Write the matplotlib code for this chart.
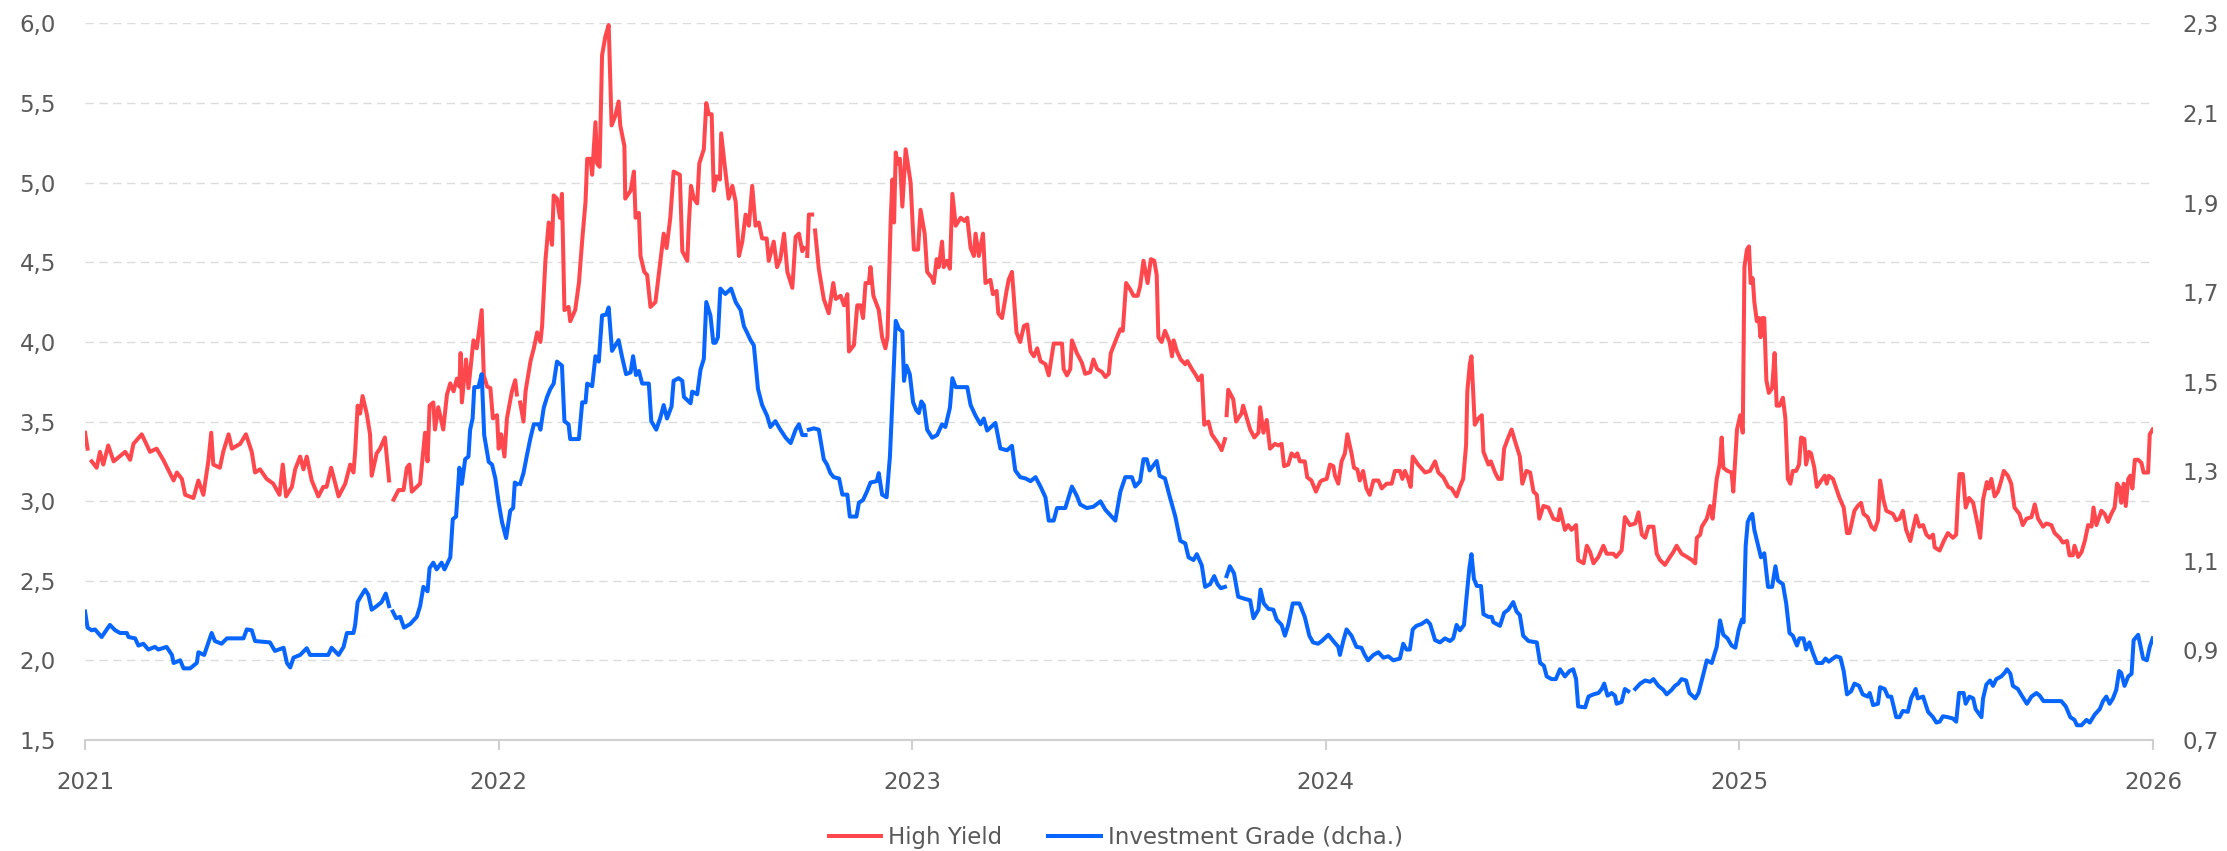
import numpy as np
import matplotlib
matplotlib.use("Agg")
import matplotlib.pyplot as plt
from matplotlib.ticker import FuncFormatter

nan = np.nan

# High Yield (left axis), decimal years
hy_t = [
    2021.000, 2021.006, 2021.010, 2021.016, 2021.028, 2021.036, 2021.044, 2021.056, 2021.069, 2021.097,
    2021.109, 2021.117, 2021.137, 2021.157, 2021.173, 2021.189, 2021.214, 2021.222, 2021.234, 2021.242,
    2021.262, 2021.274, 2021.286, 2021.298, 2021.305, 2021.310, 2021.326, 2021.334, 2021.347, 2021.355,
    2021.375, 2021.389, 2021.403, 2021.411, 2021.423, 2021.439, 2021.455, 2021.470, 2021.478, 2021.486,
    2021.500, 2021.508, 2021.520, 2021.528, 2021.536, 2021.548, 2021.564, 2021.576, 2021.584, 2021.595,
    2021.613, 2021.629, 2021.641, 2021.649, 2021.653, 2021.659, 2021.665, 2021.671, 2021.681, 2021.689,
    2021.693, 2021.705, 2021.713, 2021.725, 2021.735, 2021.740, 2021.746, 2021.758, 2021.770, 2021.778,
    2021.784, 2021.790, 2021.810, 2021.822, 2021.828, 2021.833, 2021.842, 2021.846, 2021.854, 2021.866,
    2021.875, 2021.883, 2021.891, 2021.899, 2021.905, 2021.908, 2021.911, 2021.921, 2021.927, 2021.939,
    2021.947, 2021.959, 2021.964, 2021.972, 2021.980, 2021.986, 2021.996,
    2022.000, 2022.006, 2022.014, 2022.020, 2022.032, 2022.040, 2022.044, 2022.048, 2022.052, 2022.060,
    2022.065, 2022.077, 2022.085, 2022.093, 2022.101, 2022.105, 2022.113, 2022.121, 2022.129, 2022.133,
    2022.141, 2022.148, 2022.153, 2022.159, 2022.169, 2022.173, 2022.185, 2022.194, 2022.202, 2022.210,
    2022.214, 2022.222, 2022.226, 2022.234, 2022.238, 2022.244, 2022.250, 2022.258, 2022.266, 2022.273,
    2022.282, 2022.290, 2022.294, 2022.304, 2022.306, 2022.319, 2022.327, 2022.331, 2022.339, 2022.343,
    2022.352, 2022.359, 2022.367, 2022.379, 2022.391, 2022.399, 2022.406, 2022.415, 2022.423, 2022.438,
    2022.444, 2022.456, 2022.460, 2022.465, 2022.472, 2022.480, 2022.485, 2022.496, 2022.502, 2022.508,
    2022.515, 2022.520, 2022.527, 2022.535, 2022.538, 2022.546, 2022.556, 2022.565, 2022.573, 2022.581,
    2022.589, 2022.597, 2022.605, 2022.613, 2022.621, 2022.629, 2022.637, 2022.648, 2022.653, 2022.665,
    2022.673, 2022.681, 2022.690, 2022.698, 2022.710, 2022.718, 2022.726, 2022.734, 2022.738, 2022.742,
    2022.746, 2022.750, 2022.758, 2022.762, 2022.765, 2022.774, 2022.786, 2022.798, 2022.809, 2022.815,
    2022.827, 2022.835, 2022.843, 2022.847, 2022.859, 2022.867, 2022.875, 2022.881, 2022.887, 2022.895,
    2022.899, 2022.906, 2022.919, 2022.927, 2022.935, 2022.940, 2022.948, 2022.952, 2022.956, 2022.960,
    2022.965, 2022.970, 2022.976, 2022.984, 2022.996,
    2023.004, 2023.014, 2023.020, 2023.030, 2023.036, 2023.048, 2023.052, 2023.059, 2023.064, 2023.072,
    2023.076, 2023.084, 2023.091, 2023.097, 2023.105, 2023.117, 2023.126, 2023.133, 2023.141, 2023.149,
    2023.153, 2023.161, 2023.171, 2023.177, 2023.189, 2023.195, 2023.204, 2023.208, 2023.217, 2023.228,
    2023.233, 2023.241, 2023.252, 2023.261, 2023.270, 2023.278, 2023.286, 2023.294, 2023.302, 2023.310,
    2023.322, 2023.330, 2023.342, 2023.350, 2023.362, 2023.366, 2023.374, 2023.382, 2023.386, 2023.398,
    2023.410, 2023.418, 2023.430, 2023.438, 2023.447, 2023.459, 2023.467, 2023.475, 2023.480, 2023.495,
    2023.503, 2023.509, 2023.517, 2023.527, 2023.535, 2023.545, 2023.551, 2023.559, 2023.569, 2023.577,
    2023.585, 2023.591, 2023.595, 2023.603, 2023.611, 2023.622, 2023.628, 2023.632, 2023.640, 2023.649,
    2023.660, 2023.665, 2023.676, 2023.686, 2023.692, 2023.700, 2023.706, 2023.716, 2023.724, 2023.732,
    2023.740, 2023.748, 2023.756, 2023.758, 2023.760, 2023.764, 2023.776, 2023.783, 2023.788, 2023.796,
    2023.800, 2023.809, 2023.817, 2023.827, 2023.837, 2023.841, 2023.849, 2023.857, 2023.865, 2023.877,
    2023.885, 2023.893, 2023.899, 2023.909, 2023.917, 2023.925, 2023.931, 2023.937, 2023.949, 2023.955,
    2023.965, 2023.976, 2023.986, 2023.990,
    2024.002, 2024.010, 2024.018, 2024.022, 2024.030, 2024.038, 2024.046, 2024.052, 2024.062, 2024.068,
    2024.076, 2024.082, 2024.090, 2024.098, 2024.106, 2024.115, 2024.127, 2024.135, 2024.147, 2024.159,
    2024.167, 2024.179, 2024.185, 2024.191, 2024.199, 2024.205, 2024.210, 2024.223, 2024.240, 2024.252,
    2024.264, 2024.272, 2024.284, 2024.296, 2024.304, 2024.316, 2024.324, 2024.332, 2024.339, 2024.342,
    2024.348, 2024.352, 2024.360, 2024.369, 2024.377, 2024.381, 2024.393, 2024.399, 2024.409, 2024.417,
    2024.425, 2024.431, 2024.441, 2024.449, 2024.457, 2024.469, 2024.475, 2024.485, 2024.494, 2024.502,
    2024.510, 2024.516, 2024.526, 2024.538, 2024.550, 2024.562, 2024.566, 2024.578, 2024.586, 2024.594,
    2024.605, 2024.610, 2024.623, 2024.631, 2024.639, 2024.647, 2024.659, 2024.671, 2024.679, 2024.695,
    2024.702, 2024.715, 2024.723, 2024.735, 2024.748, 2024.756, 2024.764, 2024.772, 2024.780, 2024.792,
    2024.800, 2024.808, 2024.820, 2024.832, 2024.840, 2024.848, 2024.860, 2024.873, 2024.885, 2024.893,
    2024.897, 2024.905, 2024.909, 2024.921, 2024.929, 2024.935, 2024.945, 2024.952, 2024.957, 2024.961,
    2024.971, 2024.981, 2024.985, 2024.994,
    2025.002, 2025.008, 2025.012, 2025.018, 2025.023, 2025.027, 2025.032, 2025.036, 2025.042, 2025.047,
    2025.051, 2025.055, 2025.060, 2025.065, 2025.071, 2025.079, 2025.085, 2025.090, 2025.097, 2025.105,
    2025.111, 2025.117, 2025.123, 2025.129, 2025.137, 2025.144, 2025.149, 2025.157, 2025.161, 2025.168,
    2025.173, 2025.181, 2025.187, 2025.198, 2025.206, 2025.211, 2025.216, 2025.226, 2025.234, 2025.242,
    2025.252, 2025.260, 2025.266, 2025.278, 2025.286, 2025.294, 2025.300, 2025.310, 2025.319, 2025.327,
    2025.335, 2025.340, 2025.348, 2025.355, 2025.371, 2025.379, 2025.387, 2025.395, 2025.403, 2025.413,
    2025.419, 2025.427, 2025.435, 2025.444, 2025.452, 2025.460, 2025.468, 2025.472, 2025.484, 2025.494,
    2025.504, 2025.516, 2025.524, 2025.528, 2025.532, 2025.540, 2025.547, 2025.555, 2025.565, 2025.573,
    2025.582, 2025.589, 2025.598, 2025.603, 2025.609, 2025.617, 2025.625, 2025.633, 2025.639, 2025.649,
    2025.657, 2025.665, 2025.677, 2025.685, 2025.694, 2025.706, 2025.714, 2025.722, 2025.734, 2025.742,
    2025.754, 2025.762, 2025.774, 2025.782, 2025.792, 2025.798, 2025.806, 2025.810, 2025.819, 2025.827,
    2025.835, 2025.843, 2025.851, 2025.856, 2025.863, 2025.875, 2025.883, 2025.891, 2025.899, 2025.907,
    2025.913, 2025.918, 2025.923, 2025.929, 2025.934, 2025.940, 2025.945, 2025.950, 2025.956, 2025.964,
    2025.972, 2025.977, 2025.988, 2025.992, 2025.999,
]
hy = [
    3.43, 3.33, nan, 3.25, 3.21, 3.31, 3.23, 3.35, 3.25, 3.31,
    3.26, 3.36, 3.42, 3.31, 3.33, 3.26, 3.13, 3.18, 3.14, 3.04,
    3.02, 3.13, 3.04, 3.25, 3.43, 3.23, 3.21, 3.31, 3.42, 3.33,
    3.36, 3.42, 3.31, 3.18, 3.20, 3.14, 3.11, 3.04, 3.23, 3.03,
    3.09, 3.20, 3.28, 3.20, 3.28, 3.13, 3.03, 3.09, 3.09, 3.21,
    3.03, 3.11, 3.23, 3.18, 3.31, 3.60, 3.55, 3.66, 3.55, 3.42,
    3.16, 3.30, 3.33, 3.40, 3.13, nan, 3.01, 3.07, 3.07, 3.21,
    3.23, 3.06, 3.11, 3.43, 3.25, 3.60, 3.62, 3.45, 3.59, 3.45,
    3.67, 3.74, 3.69, 3.77, 3.72, 3.93, 3.62, 3.89, 3.71, 4.01,
    3.96, 4.20, 3.79, 3.72, 3.71, 3.52, 3.54,
    3.33, 3.42, 3.28, 3.52, 3.69, 3.76, 3.67, nan, 3.62, 3.50,
    3.69, 3.88, 3.96, 4.06, 4.00, 4.10, 4.51, 4.75, 4.61, 4.92,
    4.90, 4.78, 4.93, 4.20, 4.22, 4.13, 4.20, 4.37, 4.64, 4.88,
    5.15, 5.15, 5.05, 5.38, 5.12, 5.10, 5.80, 5.92, 5.99, 5.36,
    5.42, 5.51, 5.36, 5.23, 4.90, 4.95, 5.07, 4.78, 4.81, 4.54,
    4.44, 4.42, 4.22, 4.25, 4.51, 4.68, 4.59, 4.78, 5.07, 5.05,
    4.57, 4.51, 4.75, 4.98, 4.90, 4.87, 5.12, 5.21, 5.50, 5.43,
    5.43, 4.95, 5.04, 5.02, 5.31, 5.12, 4.90, 4.98, 4.88, 4.54,
    4.63, 4.80, 4.73, 4.98, 4.73, 4.75, 4.65, 4.65, 4.51, 4.63,
    4.47, 4.52, 4.68, 4.44, 4.34, 4.66, 4.68, 4.57, 4.59, nan,
    4.54, 4.80, 4.80, nan, 4.70, 4.46, 4.27, 4.18, 4.37, 4.27,
    4.29, 4.23, 4.30, 3.94, 3.98, 4.23, 4.23, 4.15, 4.37, 4.37,
    4.47, 4.29, 4.20, 4.03, 3.96, 4.03, 4.78, 5.02, 4.75, 5.19,
    5.12, 5.15, 4.85, 5.21, 5.00,
    4.58, 4.58, 4.83, 4.68, 4.44, 4.40, 4.37, 4.52, 4.47, 4.63,
    4.47, 4.51, 4.46, 4.93, 4.73, 4.78, 4.76, 4.78, 4.59, 4.54,
    4.68, 4.54, 4.68, 4.37, 4.39, 4.30, 4.32, 4.18, 4.15, 4.32,
    4.39, 4.44, 4.06, 4.00, 4.10, 4.11, 3.94, 3.91, 3.96, 3.88,
    3.86, 3.79, 3.99, 3.99, 3.99, 3.83, 3.79, 3.83, 4.01, 3.93,
    3.87, 3.80, 3.81, 3.89, 3.83, 3.81, 3.78, 3.80, 3.93, 4.03,
    4.08, 4.07, 4.37, 4.33, 4.29, 4.29, 4.35, 4.51, 4.37, 4.52,
    4.51, 4.42, 4.03, 4.00, 4.07, 4.00, 3.91, 4.01, 3.94, 3.89,
    3.86, 3.88, 3.83, 3.79, 3.76, 3.79, 3.48, 3.50, 3.42, 3.39,
    3.36, 3.32, 3.39, nan, 3.54, 3.70, 3.64, 3.50, 3.52, 3.55,
    3.60, 3.52, 3.45, 3.40, 3.43, 3.59, 3.43, 3.51, 3.33, 3.36,
    3.35, 3.36, 3.22, 3.23, 3.30, 3.28, 3.30, 3.25, 3.25, 3.15,
    3.13, 3.06, 3.12, 3.13,
    3.14, 3.23, 3.22, 3.16, 3.11, 3.25, 3.30, 3.42, 3.30, 3.21,
    3.20, 3.13, 3.19, 3.08, 3.04, 3.13, 3.13, 3.08, 3.11, 3.11,
    3.19, 3.19, 3.14, 3.19, 3.14, 3.09, 3.28, 3.23, 3.18, 3.19,
    3.25, 3.18, 3.15, 3.09, 3.08, 3.03, 3.09, 3.14, 3.35, 3.69,
    3.86, 3.91, 3.48, 3.52, 3.54, 3.31, 3.23, 3.25, 3.18, 3.14,
    3.14, 3.33, 3.40, 3.45, 3.38, 3.28, 3.11, 3.19, 3.18, 3.06,
    3.04, 2.89, 2.97, 2.96, 2.89, 2.88, 2.95, 2.82, 2.85, 2.82,
    2.85, 2.63, 2.61, 2.72, 2.68, 2.61, 2.65, 2.72, 2.67, 2.67,
    2.65, 2.69, 2.90, 2.85, 2.86, 2.93, 2.79, 2.77, 2.84, 2.84,
    2.67, 2.63, 2.60, 2.65, 2.68, 2.72, 2.67, 2.65, 2.63, 2.61,
    2.77, 2.79, 2.84, 2.89, 2.97, 2.89, 3.14, 3.23, 3.40, 3.21,
    3.19, 3.18, 3.06, 3.45,
    3.54, 3.43, 4.47, 4.58, 4.60, 4.37, 4.40, 4.25, 4.13, 4.15,
    4.03, 4.15, 4.15, 3.76, 3.68, 3.71, 3.93, 3.60, 3.60, 3.65,
    3.52, 3.14, 3.11, 3.19, 3.19, 3.23, 3.40, 3.39, 3.23, 3.31,
    3.30, 3.21, 3.09, 3.13, 3.16, 3.11, 3.16, 3.14, 3.08, 3.02,
    2.96, 2.80, 2.80, 2.94, 2.97, 2.99, 2.92, 2.90, 2.84, 2.82,
    2.88, 3.13, 3.01, 2.94, 2.92, 2.88, 2.89, 2.94, 2.82, 2.75,
    2.82, 2.91, 2.84, 2.85, 2.79, 2.77, 2.79, 2.71, 2.69, 2.75,
    2.80, 2.77, 2.79, 3.01, 3.17, 3.17, 2.96, 3.02, 2.99, 2.89,
    2.77, 3.01, 3.12, 3.08, 3.14, 3.03, 3.06, 3.13, 3.19, 3.16,
    3.11, 2.96, 2.92, 2.85, 2.89, 2.90, 2.98, 2.89, 2.84, 2.86,
    2.85, 2.80, 2.77, 2.74, 2.75, 2.66, 2.66, 2.72, 2.65, 2.68,
    2.75, 2.85, 2.84, 2.96, 2.85, 2.94, 2.92, 2.87, 2.92, 2.96,
    3.11, 3.09, 2.99, 3.11, 2.97, 3.14, 3.16, 3.08, 3.26, 3.26,
    3.24, 3.18, 3.18, 3.42, 3.45,
]

# Investment Grade (right axis)
ig_t = [
    2021.000, 2021.006, 2021.016, 2021.024, 2021.040, 2021.060, 2021.073, 2021.085, 2021.101, 2021.105,
    2021.121, 2021.129, 2021.141, 2021.153, 2021.169, 2021.177, 2021.197, 2021.210, 2021.214, 2021.230,
    2021.238, 2021.254, 2021.270, 2021.274, 2021.288, 2021.306, 2021.314, 2021.330, 2021.343, 2021.383,
    2021.391, 2021.403, 2021.411, 2021.447, 2021.459, 2021.480, 2021.488, 2021.496, 2021.504, 2021.520,
    2021.536, 2021.544, 2021.588, 2021.596, 2021.613, 2021.625, 2021.633, 2021.649, 2021.653, 2021.659,
    2021.665, 2021.677, 2021.685, 2021.693, 2021.705, 2021.717, 2021.727, 2021.735, 2021.740, 2021.744,
    2021.752, 2021.762, 2021.771, 2021.786, 2021.802, 2021.810, 2021.818, 2021.828, 2021.833, 2021.842,
    2021.850, 2021.862, 2021.869, 2021.883, 2021.889, 2021.897, 2021.905, 2021.911, 2021.919, 2021.927,
    2021.931, 2021.937, 2021.941, 2021.951, 2021.959, 2021.965, 2021.976, 2021.984, 2021.992,
    2022.000, 2022.008, 2022.018, 2022.028, 2022.035, 2022.039, 2022.044, 2022.048, 2022.052, 2022.060,
    2022.069, 2022.077, 2022.085, 2022.097, 2022.101, 2022.109, 2022.117, 2022.125, 2022.133, 2022.141,
    2022.153, 2022.159, 2022.169, 2022.173, 2022.194, 2022.202, 2022.210, 2022.214, 2022.226, 2022.234,
    2022.242, 2022.250, 2022.260, 2022.266, 2022.274, 2022.290, 2022.298, 2022.308, 2022.319, 2022.325,
    2022.332, 2022.339, 2022.347, 2022.363, 2022.369, 2022.381, 2022.391, 2022.399, 2022.407, 2022.418,
    2022.423, 2022.435, 2022.444, 2022.448, 2022.464, 2022.468, 2022.480, 2022.488, 2022.496, 2022.502,
    2022.512, 2022.519, 2022.524, 2022.530, 2022.536, 2022.548, 2022.562, 2022.573, 2022.585, 2022.593,
    2022.601, 2022.609, 2022.617, 2022.627, 2022.637, 2022.649, 2022.657, 2022.669, 2022.681, 2022.694,
    2022.706, 2022.718, 2022.726, 2022.734, 2022.742, 2022.744, 2022.750, 2022.762, 2022.774, 2022.786,
    2022.794, 2022.802, 2022.810, 2022.823, 2022.831, 2022.843, 2022.849, 2022.865, 2022.871, 2022.881,
    2022.890, 2022.899, 2022.914, 2022.919, 2022.927, 2022.938, 2022.946, 2022.954, 2022.960, 2022.968,
    2022.976, 2022.980, 2022.986, 2022.994,
    2023.002, 2023.010, 2023.016, 2023.022, 2023.028, 2023.036, 2023.048, 2023.060, 2023.072, 2023.080,
    2023.091, 2023.097, 2023.105, 2023.133, 2023.141, 2023.153, 2023.165, 2023.173, 2023.181, 2023.201,
    2023.213, 2023.229, 2023.241, 2023.249, 2023.261, 2023.274, 2023.286, 2023.298, 2023.310, 2023.322,
    2023.330, 2023.342, 2023.350, 2023.370, 2023.386, 2023.398, 2023.406, 2023.422, 2023.438, 2023.455,
    2023.467, 2023.479, 2023.491, 2023.503, 2023.515, 2023.531, 2023.539, 2023.551, 2023.559, 2023.567,
    2023.574, 2023.591, 2023.598, 2023.611, 2023.623, 2023.636, 2023.648, 2023.660, 2023.668, 2023.680,
    2023.688, 2023.700, 2023.708, 2023.720, 2023.730, 2023.738, 2023.746, 2023.756, 2023.758, 2023.760,
    2023.768, 2023.778, 2023.788, 2023.805, 2023.817, 2023.825, 2023.837, 2023.842, 2023.850, 2023.861,
    2023.873, 2023.881, 2023.893, 2023.901, 2023.909, 2023.920, 2023.936, 2023.949, 2023.960, 2023.969,
    2023.981, 2023.990,
    2024.006, 2024.018, 2024.030, 2024.034, 2024.042, 2024.050, 2024.062, 2024.074, 2024.086, 2024.094,
    2024.102, 2024.115, 2024.127, 2024.139, 2024.151, 2024.163, 2024.179, 2024.187, 2024.195, 2024.203,
    2024.210, 2024.219, 2024.231, 2024.244, 2024.252, 2024.264, 2024.276, 2024.288, 2024.300, 2024.308,
    2024.316, 2024.324, 2024.334, 2024.340, 2024.347, 2024.352, 2024.358, 2024.365, 2024.375, 2024.381,
    2024.393, 2024.401, 2024.405, 2024.421, 2024.431, 2024.441, 2024.453, 2024.461, 2024.469, 2024.477,
    2024.490, 2024.510, 2024.518, 2024.527, 2024.534, 2024.546, 2024.556, 2024.566, 2024.578, 2024.589,
    2024.598, 2024.605, 2024.610, 2024.627, 2024.635, 2024.647, 2024.659, 2024.667, 2024.673, 2024.681,
    2024.691, 2024.699, 2024.703, 2024.715, 2024.723, 2024.731, 2024.735, 2024.748, 2024.760, 2024.772,
    2024.784, 2024.792, 2024.804, 2024.816, 2024.824, 2024.836, 2024.844, 2024.852, 2024.860, 2024.871,
    2024.879, 2024.893, 2024.901, 2024.913, 2024.921, 2024.933, 2024.945, 2024.953, 2024.961, 2024.971,
    2024.981, 2024.990, 2024.998,
    2025.006, 2025.010, 2025.015, 2025.020, 2025.026, 2025.031, 2025.036, 2025.044, 2025.052, 2025.060,
    2025.069, 2025.079, 2025.087, 2025.093, 2025.105, 2025.113, 2025.121, 2025.129, 2025.139, 2025.145,
    2025.155, 2025.161, 2025.169, 2025.177, 2025.187, 2025.200, 2025.208, 2025.216, 2025.226, 2025.234,
    2025.244, 2025.252, 2025.260, 2025.270, 2025.278, 2025.289, 2025.298, 2025.310, 2025.315, 2025.323,
    2025.335, 2025.340, 2025.351, 2025.359, 2025.367, 2025.379, 2025.387, 2025.395, 2025.407, 2025.415,
    2025.426, 2025.431, 2025.444, 2025.456, 2025.468, 2025.476, 2025.484, 2025.492, 2025.504, 2025.516,
    2025.524, 2025.531, 2025.542, 2025.547, 2025.556, 2025.565, 2025.571, 2025.585, 2025.589, 2025.597,
    2025.606, 2025.613, 2025.621, 2025.633, 2025.641, 2025.647, 2025.655, 2025.661, 2025.673, 2025.684,
    2025.695, 2025.706, 2025.718, 2025.726, 2025.735, 2025.754, 2025.778, 2025.789, 2025.800, 2025.810,
    2025.816, 2025.827, 2025.839, 2025.847, 2025.859, 2025.871, 2025.879, 2025.887, 2025.895, 2025.903,
    2025.911, 2025.918, 2025.923, 2025.931, 2025.940, 2025.948, 2025.953, 2025.964, 2025.976, 2025.985,
    2025.992, 2025.999,
]
ig = [
    0.987, 0.951, 0.945, 0.947, 0.930, 0.957, 0.945, 0.939, 0.939, 0.930,
    0.927, 0.911, 0.915, 0.902, 0.908, 0.902, 0.908, 0.890, 0.872, 0.878,
    0.860, 0.860, 0.872, 0.896, 0.890, 0.939, 0.921, 0.915, 0.927, 0.927,
    0.947, 0.945, 0.921, 0.918, 0.899, 0.906, 0.872, 0.862, 0.884, 0.890,
    0.905, 0.890, 0.890, 0.906, 0.890, 0.908, 0.939, 0.939, 0.957, 1.008,
    1.018, 1.036, 1.024, 0.991, 0.999, 1.008, 1.027, 0.999, nan, 0.987,
    0.972, 0.975, 0.951, 0.959, 0.975, 0.999, 1.042, 1.032, 1.084, 1.096,
    1.081, 1.096, 1.081, 1.108, 1.193, 1.199, 1.308, 1.272, 1.327, 1.333,
    1.393, 1.418, 1.488, 1.488, 1.517, 1.381, 1.321, 1.315, 1.284,
    1.230, 1.187, 1.151, 1.212, 1.218, 1.275, 1.272, nan, 1.272, 1.296,
    1.339, 1.375, 1.405, 1.405, 1.393, 1.442, 1.466, 1.484, 1.496, 1.545,
    1.536, 1.412, 1.405, 1.372, 1.372, 1.454, 1.454, 1.496, 1.490, 1.557,
    1.545, 1.648, 1.650, 1.666, 1.569, 1.593, 1.557, 1.517, 1.521, 1.557,
    1.515, 1.524, 1.496, 1.496, 1.412, 1.393, 1.420, 1.448, 1.418, 1.445,
    1.502, 1.508, 1.502, 1.466, 1.452, 1.478, 1.472, 1.527, 1.551, 1.678,
    1.648, 1.587, 1.587, 1.599, 1.708, 1.696, 1.708, 1.678, 1.660, 1.624,
    1.609, 1.593, 1.581, 1.484, 1.448, 1.424, 1.399, 1.412, 1.393, 1.375,
    1.363, 1.393, 1.405, 1.381, 1.381, nan, 1.393, 1.396, 1.393, 1.327,
    1.315, 1.296, 1.287, 1.284, 1.248, 1.248, 1.199, 1.199, 1.230, 1.236,
    1.254, 1.275, 1.278, 1.296, 1.248, 1.242, 1.333, 1.502, 1.636, 1.618,
    1.612, 1.502, 1.536, 1.517,
    1.454, 1.436, 1.430, 1.456, 1.448, 1.393, 1.375, 1.381, 1.405, 1.399,
    1.442, 1.508, 1.488, 1.488, 1.448, 1.424, 1.405, 1.418, 1.391, 1.408,
    1.351, 1.347, 1.357, 1.302, 1.287, 1.284, 1.278, 1.287, 1.266, 1.242,
    1.190, 1.190, 1.218, 1.218, 1.266, 1.245, 1.226, 1.218, 1.221, 1.233,
    1.214, 1.202, 1.190, 1.254, 1.287, 1.287, 1.266, 1.278, 1.327, 1.327,
    1.302, 1.323, 1.290, 1.284, 1.242, 1.199, 1.145, 1.139, 1.108, 1.102,
    1.115, 1.090, 1.042, 1.048, 1.066, 1.048, 1.039, 1.042, nan, 1.066,
    1.088, 1.072, 1.020, 1.015, 1.012, 0.972, 0.991, 1.036, 1.005, 0.993,
    0.991, 0.969, 0.957, 0.933, 0.957, 1.005, 1.005, 0.975, 0.933, 0.918,
    0.915, 0.921,
    0.935, 0.921, 0.908, 0.890, 0.921, 0.947, 0.933, 0.908, 0.906, 0.890,
    0.878, 0.890, 0.896, 0.884, 0.887, 0.878, 0.882, 0.915, 0.902, 0.902,
    0.947, 0.955, 0.959, 0.967, 0.959, 0.923, 0.918, 0.927, 0.921, 0.927,
    0.957, 0.945, 0.957, 1.018, 1.084, 1.115, 1.060, 1.044, 1.044, 0.981,
    0.975, 0.975, 0.963, 0.955, 0.984, 0.991, 1.008, 0.987, 0.979, 0.933,
    0.921, 0.918, 0.872, 0.866, 0.842, 0.836, 0.836, 0.858, 0.842, 0.854,
    0.858, 0.836, 0.775, 0.773, 0.797, 0.802, 0.805, 0.814, 0.826, 0.799,
    0.805, 0.799, 0.781, 0.785, 0.814, 0.809, nan, 0.814, 0.826, 0.833,
    0.830, 0.836, 0.821, 0.812, 0.802, 0.812, 0.821, 0.826, 0.836, 0.833,
    0.805, 0.793, 0.805, 0.848, 0.878, 0.872, 0.908, 0.967, 0.935, 0.927,
    0.911, 0.906, 0.945,
    0.969, 0.963, 1.133, 1.187, 1.199, 1.205, 1.169, 1.139, 1.108, 1.117,
    1.042, 1.042, 1.088, 1.056, 1.048, 1.005, 0.939, 0.933, 0.911, 0.927,
    0.927, 0.902, 0.918, 0.896, 0.872, 0.872, 0.882, 0.875, 0.882, 0.887,
    0.884, 0.854, 0.802, 0.809, 0.826, 0.821, 0.802, 0.797, 0.805, 0.778,
    0.781, 0.818, 0.814, 0.797, 0.797, 0.751, 0.751, 0.765, 0.763, 0.793,
    0.814, 0.793, 0.797, 0.763, 0.751, 0.739, 0.741, 0.753, 0.751, 0.748,
    0.741, 0.805, 0.805, 0.781, 0.797, 0.793, 0.769, 0.751, 0.793, 0.824,
    0.833, 0.821, 0.836, 0.842, 0.850, 0.858, 0.848, 0.821, 0.814, 0.797,
    0.781, 0.797, 0.805, 0.799, 0.787, 0.787, 0.787, 0.775, 0.751, 0.745,
    0.733, 0.733, 0.745, 0.739, 0.757, 0.769, 0.787, 0.797, 0.781, 0.793,
    0.812, 0.854, 0.850, 0.821, 0.842, 0.848, 0.923, 0.935, 0.882, 0.878,
    0.908, 0.927,
]

years = [2021, 2022, 2023, 2024, 2025, 2026]
left_ticks = [1.5, 2.0, 2.5, 3.0, 3.5, 4.0, 4.5, 5.0, 5.5, 6.0]
right_ticks = [0.7, 0.9, 1.1, 1.3, 1.5, 1.7, 1.9, 2.1, 2.3]

red = "#FF484E"
blue = "#0866FF"
grey_text = "#595959"
comma = FuncFormatter(lambda v, pos: f"{v:.1f}".replace(".", ","))

fig = plt.figure(figsize=(22.27, 8.51), dpi=100)
ax = fig.add_axes([0.0382, 0.1304, 0.9286, 0.8420])
ax2 = ax.twinx()

l1, = ax.plot(hy_t, hy, color=red, lw=2.9, label="High Yield")
l2, = ax2.plot(ig_t, ig, color=blue, lw=2.9, label="Investment Grade (dcha.)")

ax.set_xlim(2021, 2026)
ax.set_ylim(1.5, 6.0)
ax2.set_ylim(0.7, 2.3)

ax.set_yticks(left_ticks)
ax2.set_yticks(right_ticks)
ax.yaxis.set_major_formatter(comma)
ax2.yaxis.set_major_formatter(comma)
ax.set_xticks(years)
ax.set_xticklabels([str(y) for y in years])

for a in (ax, ax2):
    for s in a.spines.values():
        s.set_visible(False)
ax.spines["bottom"].set_visible(True)
ax.spines["bottom"].set_color("#d0d0d0")
ax.spines["bottom"].set_linewidth(1.5)

ax.grid(axis="y", color="#dcdcdc", linestyle=(0, (6, 4)), linewidth=1.0)
ax.set_axisbelow(True)

ax.tick_params(axis="y", length=0, pad=21, labelsize=16.5, labelcolor=grey_text)
ax2.tick_params(axis="y", length=0, pad=21, labelsize=16.5, labelcolor=grey_text)
ax.tick_params(axis="x", length=7, width=1.5, color="#d0d0d0", pad=15,
               labelsize=16.5, labelcolor=grey_text)

fig.legend(handles=[l1, l2], loc="center", bbox_to_anchor=(0.501, 0.016), ncol=2,
           frameon=False, fontsize=16.5, labelcolor=grey_text, handlelength=2.3,
           handletextpad=0.3, columnspacing=2.0)

fig.savefig("out.png", dpi=100)
